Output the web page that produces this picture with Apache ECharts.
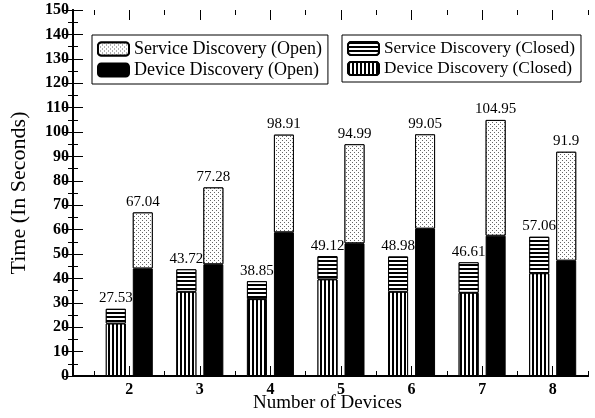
<!DOCTYPE html>
<html>
<head>
<meta charset="utf-8">
<script src="https://cdn.jsdelivr.net/npm/echarts@6/dist/echarts.min.js"></script>
<style>
  html, body { margin: 0; padding: 0; background: #fff; }
  #chart { width: 595px; height: 418px; }
</style>
</head>
<body>
<div id="chart"></div>
<script>
// data
const devices = ['2', '3', '4', '5', '6', '7', '8'];
const closedTotal = [27.53, 43.72, 38.85, 49.12, 48.98, 46.61, 57.06];
const deviceClosed = [21.5, 34.5, 31.5, 39.6, 34.5, 34.1, 42.1];
const serviceClosed = [6.03, 9.22, 7.35, 9.52, 14.48, 12.51, 14.96];
const openTotal = [67.04, 77.28, 98.91, 94.99, 99.05, 104.95, 91.9];
const deviceOpen = [44.1, 45.8, 58.9, 54.4, 60.4, 57.5, 47.3];
const serviceOpen = [22.94, 31.48, 40.01, 40.59, 38.65, 47.45, 44.6];

const serif = 'Liberation Serif';
const black = '#000';

// patterns
const dots = { color: '#666', backgroundColor: '#fff', symbol: 'rect', symbolSize: 1, dashArrayX: [[1, 3], [0, 2, 1, 1]], dashArrayY: [1, 1] };
const hLines = { color: black, backgroundColor: '#fff', symbol: 'rect', symbolSize: 1, dashArrayX: [1, 0], dashArrayY: [1.5, 1.8] };
const vLines = { color: black, backgroundColor: '#fff', symbol: 'rect', symbolSize: 1, dashArrayX: [1.5, 2], dashArrayY: [1, 0] };

const labelStyle = { show: true, position: 'top', distance: 3, color: black, fontFamily: serif, fontSize: 15 };

function frameAxis(pos) {
  return {
    type: 'value', gridIndex: 0, position: pos, min: 0, max: 1,
    axisLine: { show: true, lineStyle: { color: black, width: 2 } },
    axisTick: { show: false }, axisLabel: { show: false }, splitLine: { show: false }
  };
}
function catAxis(pos, major) {
  return {
    type: 'category', gridIndex: 1, position: pos, data: devices,
    axisLine: { show: false },
    axisTick: { show: true, inside: true, alignWithLabel: major, length: major ? 10 : 5, lineStyle: { color: black, width: 1 } },
    axisLabel: { show: major && pos === 'bottom', color: black, fontFamily: serif, fontWeight: 'bold', fontSize: 16, margin: 6 },
    splitLine: { show: false }
  };
}
function timeAxis(pos, grid, shown) {
  return {
    type: 'value', gridIndex: grid, position: pos, min: 0, max: 150, interval: 10,
    name: shown && pos === 'left' ? 'Time (In Seconds)' : '',
    nameLocation: 'middle', nameGap: 43, nameRotate: 90,
    nameTextStyle: { color: black, fontFamily: serif, fontSize: 22 },
    axisLine: { show: shown, lineStyle: { color: black, width: 2 } },
    axisTick: { show: shown, inside: true, length: 10, lineStyle: { color: black } },
    minorTick: { show: shown, splitNumber: 2, length: 5, lineStyle: { color: black } },
    axisLabel: { show: shown && pos === 'left', color: black, fontFamily: serif, fontWeight: 'bold', fontSize: 16, margin: 4 },
    splitLine: { show: false }
  };
}

const legendBase = {
  orient: 'vertical', top: 35, itemWidth: 31, itemHeight: 13, itemGap: 3,
  padding: [5, 6, 5, 5], borderColor: black, borderWidth: 1, backgroundColor: '#fff'
};

const option = {
  animation: false,
  backgroundColor: '#fff',
  grid: [
    { left: 66, right: 7, top: 10, bottom: 42 },
    { left: 94, right: 7, top: 10, bottom: 42 }
  ],
  xAxis: [
    frameAxis('bottom'), frameAxis('top'),
    catAxis('bottom', true), catAxis('bottom', false),
    catAxis('top', true), catAxis('top', false)
  ],
  yAxis: [timeAxis('left', 0, true), timeAxis('right', 0, true), timeAxis('left', 1, false)],
  graphic: [{
    type: 'text', left: 253, top: 394,
    style: { text: 'Number of Devices', fill: black, font: '19px "Liberation Serif"' }
  }],
  legend: [
    Object.assign({}, legendBase, {
      left: 92, data: ['Service Discovery (Open)', 'Device Discovery (Open)'],
      textStyle: { color: black, fontFamily: serif, fontSize: 18 }
    }),
    Object.assign({}, legendBase, {
      left: 342, data: ['Service Discovery (Closed)', 'Device Discovery (Closed)'],
      textStyle: { color: black, fontFamily: serif, fontSize: 17.3 }
    })
  ],
  series: [
    {
      name: 'Device Discovery (Closed)', type: 'bar', stack: 'closed', xAxisIndex: 2, yAxisIndex: 2,
      barWidth: 20, barGap: '35%', data: deviceClosed,
      itemStyle: { color: '#fff', borderColor: black, borderWidth: 1, decal: vLines }
    },
    {
      name: 'Service Discovery (Closed)', type: 'bar', stack: 'closed', xAxisIndex: 2, yAxisIndex: 2,
      barWidth: 20, barGap: '35%', data: serviceClosed,
      itemStyle: { color: '#fff', borderColor: black, borderWidth: 1, decal: hLines },
      label: Object.assign({}, labelStyle, { formatter: p => closedTotal[p.dataIndex] })
    },
    {
      name: 'Device Discovery (Open)', type: 'bar', stack: 'open', xAxisIndex: 2, yAxisIndex: 2,
      barWidth: 20, barGap: '35%', data: deviceOpen,
      itemStyle: { color: black, borderColor: black, borderWidth: 1 }
    },
    {
      name: 'Service Discovery (Open)', type: 'bar', stack: 'open', xAxisIndex: 2, yAxisIndex: 2,
      barWidth: 20, barGap: '35%', data: serviceOpen,
      itemStyle: { color: '#fff', borderColor: black, borderWidth: 1, decal: dots },
      label: Object.assign({}, labelStyle, { formatter: p => openTotal[p.dataIndex] })
    }
  ]
};

const chart = echarts.init(document.getElementById('chart'));
chart.setOption(option);
</script>
</body>
</html>
